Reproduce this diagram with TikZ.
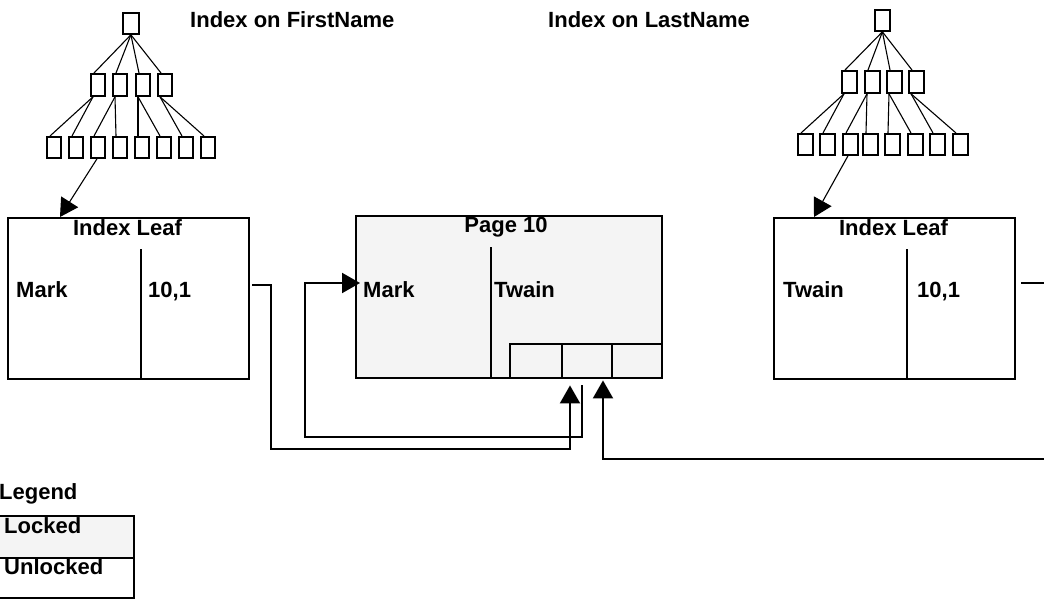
\documentclass[tikz,border=0pt]{standalone}
\usepackage{fontspec}
\setmainfont{Liberation Sans}
\usetikzlibrary{arrows.meta}
\definecolor{lk}{HTML}{F4F4F4}
\begin{document}
\begin{tikzpicture}[x=1pt,y=-1pt,
  tb/.style={draw,line width=1.8pt,inner sep=0pt,minimum width=14pt,minimum height=21pt,anchor=north west},
  tedge/.style={line width=1.1pt},
  bx/.style={draw,line width=2.4pt,inner sep=0pt,anchor=north west},
  div/.style={line width=2.2pt},
  conn/.style={line width=2pt},
  tip/.style={-{Triangle[length=18pt,width=20pt]}},
  lbl/.style={font=\bfseries\fontsize{22}{26}\selectfont,inner sep=0pt,anchor=base west},
  ]
\useasboundingbox (0,0) rectangle (1044,598);
\clip (0,0) rectangle (1044,598);

% ---------- left tree ----------
\node[tb,minimum width=16pt] (Lr) at (122,12) {};
\foreach \x [count=\i] in {90,112,135,157}
  \node[tb,minimum height=22pt] (Lm\i) at (\x,73) {};
\foreach \x [count=\i] in {46,68,90,112,134,156,178,200}
  \node[tb] (Lb\i) at (\x,136) {};
\foreach \i in {1,...,4}
  \draw[tedge] (Lr.south) -- ([xshift=4pt]Lm\i.north west);
\foreach \m/\a/\b in {1/1/2,2/3/4,3/5/6,4/7/8}{
  \draw[tedge] ([xshift=3pt]Lm\m.south west) -- ([xshift=4pt]Lb\a.north west);
  \draw[tedge] ([xshift=3pt]Lm\m.south west) -- ([xshift=4pt]Lb\b.north west);
}

% ---------- right tree ----------
\node[tb,minimum width=15pt] (Rr) at (874,9) {};
\foreach \x [count=\i] in {841,864,886,908}
  \node[tb,minimum width=15pt,minimum height=22pt] (Rm\i) at (\x,70) {};
\foreach \x [count=\i] in {797,819,842,862,884,907,929,952}
  \node[tb,minimum width=15pt] (Rb\i) at (\x,133) {};
\foreach \i in {1,...,4}
  \draw[tedge] (Rr.south) -- ([xshift=4pt]Rm\i.north west);
\foreach \m/\a/\b in {1/1/2,2/3/4,3/5/6,4/7/8}{
  \draw[tedge] ([xshift=3pt]Rm\m.south west) -- ([xshift=4pt]Rb\a.north west);
  \draw[tedge] ([xshift=3pt]Rm\m.south west) -- ([xshift=4pt]Rb\b.north west);
}

% ---------- boxes ----------
\node[bx,minimum width=241pt,minimum height=161pt] (leafL) at (7,217) {};
\draw[div] (141,249) -- (141,378);
\node[bx,fill=lk,minimum width=306pt,minimum height=162pt] (page) at (355,215) {};
\draw[div] (491,247) -- (491,377);
\node[bx,minimum width=52pt,minimum height=34pt] (slot1) at (509,343) {};
\node[bx,minimum width=50pt,minimum height=34pt] (slot2) at (561,343) {};
\node[bx,minimum width=50pt,minimum height=34pt] (slot3) at (611,343) {};
\node[bx,minimum width=241pt,minimum height=161pt] (leafR) at (773,217) {};
\draw[div] (907,249) -- (907,378);

% legend boxes
\node[bx,fill=lk,minimum width=140pt,minimum height=42pt] (legL) at (-7,515) {};
\node[bx,minimum width=140pt,minimum height=40pt] (legU) at (-7,557) {};

% ---------- tree to leaf arrows ----------
\draw[tedge,tip] ([xshift=7pt]Lb3.south west) -- ([xshift=53pt]leafL.north west);
\draw[tedge,tip] ([xshift=6pt]Rb3.south west) -- ([xshift=41pt]leafR.north west);

% ---------- connectors ----------
\coordinate (c1) at (252,285);
\draw[conn,tip] (c1) -- (271,285) -- (271,449) -- (570,449) -- ([xshift=9pt,yshift=-6pt]slot2.south west);
\coordinate (pin) at (360,283);
\draw[conn,tip] ([xshift=21pt,yshift=-6pt]slot2.south west) -- (582,437) -- (305,437) -- (305,283) -- (pin);
\coordinate (c3) at (1021,283);
\draw[conn,tip] (c3) -- (1060,283) -- (1060,459) -- (603,459) -- ([xshift=-8pt,yshift=-1pt]slot3.south west);

% ---------- texts ----------
\node[lbl] (t1) at (190,27) {Index on FirstName};
\node[lbl] (t2) at (548,27) {Index on LastName};
\node[lbl,anchor=base] (hL) at (127.5,235) {Index Leaf};
\node[lbl,anchor=base] (hP) at (506,232) {Page 10};
\node[lbl,anchor=base] (hR) at (893.5,235) {Index Leaf};
\node[lbl] (mL) at (16,297) {Mark};
\node[lbl] (nL) at (148,297) {10,1};
\node[lbl] (mP) at (363,297) {Mark};
\node[lbl] (tP) at (494,297) {Twain};
\node[lbl] (tR) at (783,297) {Twain};
\node[lbl] (nR) at (917,297) {10,1};
\node[lbl] (lg) at (-1,499) {Legend};
\node[lbl] (lk) at (4,533) {Locked};
\node[lbl] (ul) at (4,574) {Unlocked};
\end{tikzpicture}
\end{document}
